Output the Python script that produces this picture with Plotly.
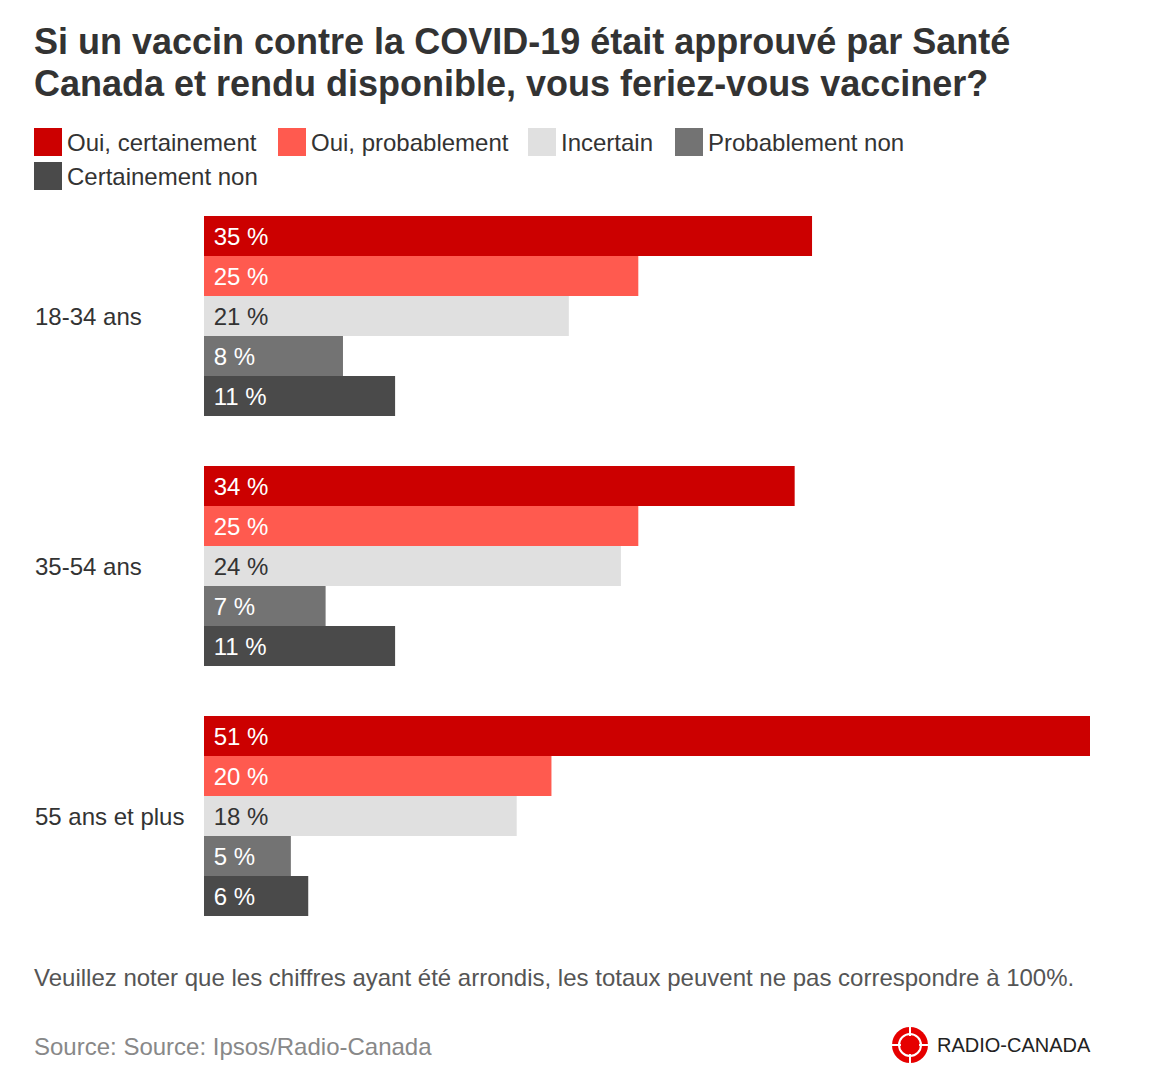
import plotly.graph_objects as go

# ---- data ----
groups = ["18-34 ans", "35-54 ans", "55 ans et plus"]
series = ["Oui, certainement", "Oui, probablement", "Incertain", "Probablement non", "Certainement non"]
values = {
    "Oui, certainement": [35, 34, 51],
    "Oui, probablement": [25, 25, 20],
    "Incertain": [21, 24, 18],
    "Probablement non": [8, 7, 5],
    "Certainement non": [11, 11, 6],
}
colors = ["#cc0000", "#ff5a4f", "#e0e0e0", "#737373", "#4a4a4a"]
text_colors = ["#ffffff", "#ffffff", "#333333", "#ffffff", "#ffffff"]

title_lines = ["Si un vaccin contre la COVID-19 était approuvé par Santé",
               "Canada et rendu disponible, vous feriez-vous vacciner?"]
note = "Veuillez noter que les chiffres ayant été arrondis, les totaux peuvent ne pas correspondre à 100%."
source = "Source: Source: Ipsos/Radio-Canada"

W, H = 1154, 1086
ML, MR, MT, MB = 204, 64, 191, 145
PW, PH = W - ML - MR, H - MT - MB
FONT = "Liberation Sans, Arial, Helvetica, sans-serif"


def px2x(px):
    return (px - ML) / PW


def py2y(py):
    return (H - MB - py) / PH


fig = go.Figure()
for s, c, tc in zip(series, colors, text_colors):
    fig.add_trace(go.Bar(
        y=groups, x=values[s], orientation="h", name=s,
        marker=dict(color=c, line=dict(width=0)),
        text=[f"\u00a0{v}\u00a0%" for v in values[s]],
        textposition="inside", insidetextanchor="start",
        textfont=dict(color=tc, size=24, family=FONT),
        hoverinfo="skip", showlegend=False,
    ))

annotations = []
shapes = []

# title (two lines, tight spacing)
for line, ly in zip(title_lines, (42, 83)):
    annotations.append(dict(text=f"<b>{line}</b>", xref="paper", yref="paper",
                            x=px2x(32), y=py2y(ly), xanchor="left", yanchor="middle",
                            align="left", showarrow=False,
                            font=dict(size=36, color="#333333", family=FONT)))

# legend (custom, large square swatches)
leg_pos = [(34, 142), (278, 142), (528, 142), (675, 142), (34, 176)]
for (lx, ly), s, c in zip(leg_pos, series, colors):
    shapes.append(dict(type="rect", xref="paper", yref="paper",
                       x0=px2x(lx), x1=px2x(lx + 28), y0=py2y(ly - 14), y1=py2y(ly + 14),
                       fillcolor=c, line=dict(width=0)))
    annotations.append(dict(text=s, xref="paper", yref="paper",
                            x=px2x(lx + 31), y=py2y(ly), xanchor="left", yanchor="middle",
                            showarrow=False, font=dict(size=24, color="#333333", family=FONT)))

# category labels (left aligned)
for g in groups:
    annotations.append(dict(text=g, xref="paper", yref="y", x=px2x(33), y=g,
                            xanchor="left", yanchor="middle", showarrow=False,
                            font=dict(size=24, color="#333333", family=FONT)))

# footnotes
annotations.append(dict(text=note, xref="paper", yref="paper", x=px2x(32), y=py2y(977),
                        xanchor="left", yanchor="middle", showarrow=False,
                        font=dict(size=24, color="#555555", family=FONT)))
annotations.append(dict(text=source, xref="paper", yref="paper", x=px2x(32), y=py2y(1046),
                        xanchor="left", yanchor="middle", showarrow=False,
                        font=dict(size=24, color="#888888", family=FONT)))

# logo
cx, cy = 910, 1045
shapes.append(dict(type="circle", xref="paper", yref="paper",
                   x0=px2x(cx - 18), x1=px2x(cx + 18), y0=py2y(cy + 18), y1=py2y(cy - 18),
                   fillcolor="#e60000", line=dict(width=0)))
shapes.append(dict(type="circle", xref="paper", yref="paper",
                   x0=px2x(cx - 11), x1=px2x(cx + 11), y0=py2y(cy + 11), y1=py2y(cy - 11),
                   fillcolor="rgba(0,0,0,0)", line=dict(width=2, color="white")))
for d in (-1, 1):
    shapes.append(dict(type="line", xref="paper", yref="paper",
                       x0=px2x(cx + d * 9), x1=px2x(cx + d * 19), y0=py2y(cy), y1=py2y(cy),
                       line=dict(width=2, color="white")))
    shapes.append(dict(type="line", xref="paper", yref="paper",
                       x0=px2x(cx), x1=px2x(cx), y0=py2y(cy + d * 9), y1=py2y(cy + d * 19),
                       line=dict(width=2, color="white")))
annotations.append(dict(text="RADIO-CANADA", xref="paper", yref="paper", x=px2x(935), y=py2y(1045),
                        xanchor="left", yanchor="middle", showarrow=False,
                        font=dict(size=20, color="#222222", family=FONT)))

fig.update_layout(
    width=W, height=H,
    margin=dict(l=ML, r=MR, t=MT, b=MB, pad=0),
    barmode="group", bargap=0.2, bargroupgap=0,
    plot_bgcolor="white", paper_bgcolor="white",
    xaxis=dict(range=[0, 51], visible=False, fixedrange=True),
    yaxis=dict(categoryorder="array", categoryarray=groups, autorange="reversed",
               showticklabels=False, showgrid=False, zeroline=False, showline=False),
    annotations=annotations, shapes=shapes,
    showlegend=False,
    font=dict(family=FONT),
)

fig.write_html("out.html")
